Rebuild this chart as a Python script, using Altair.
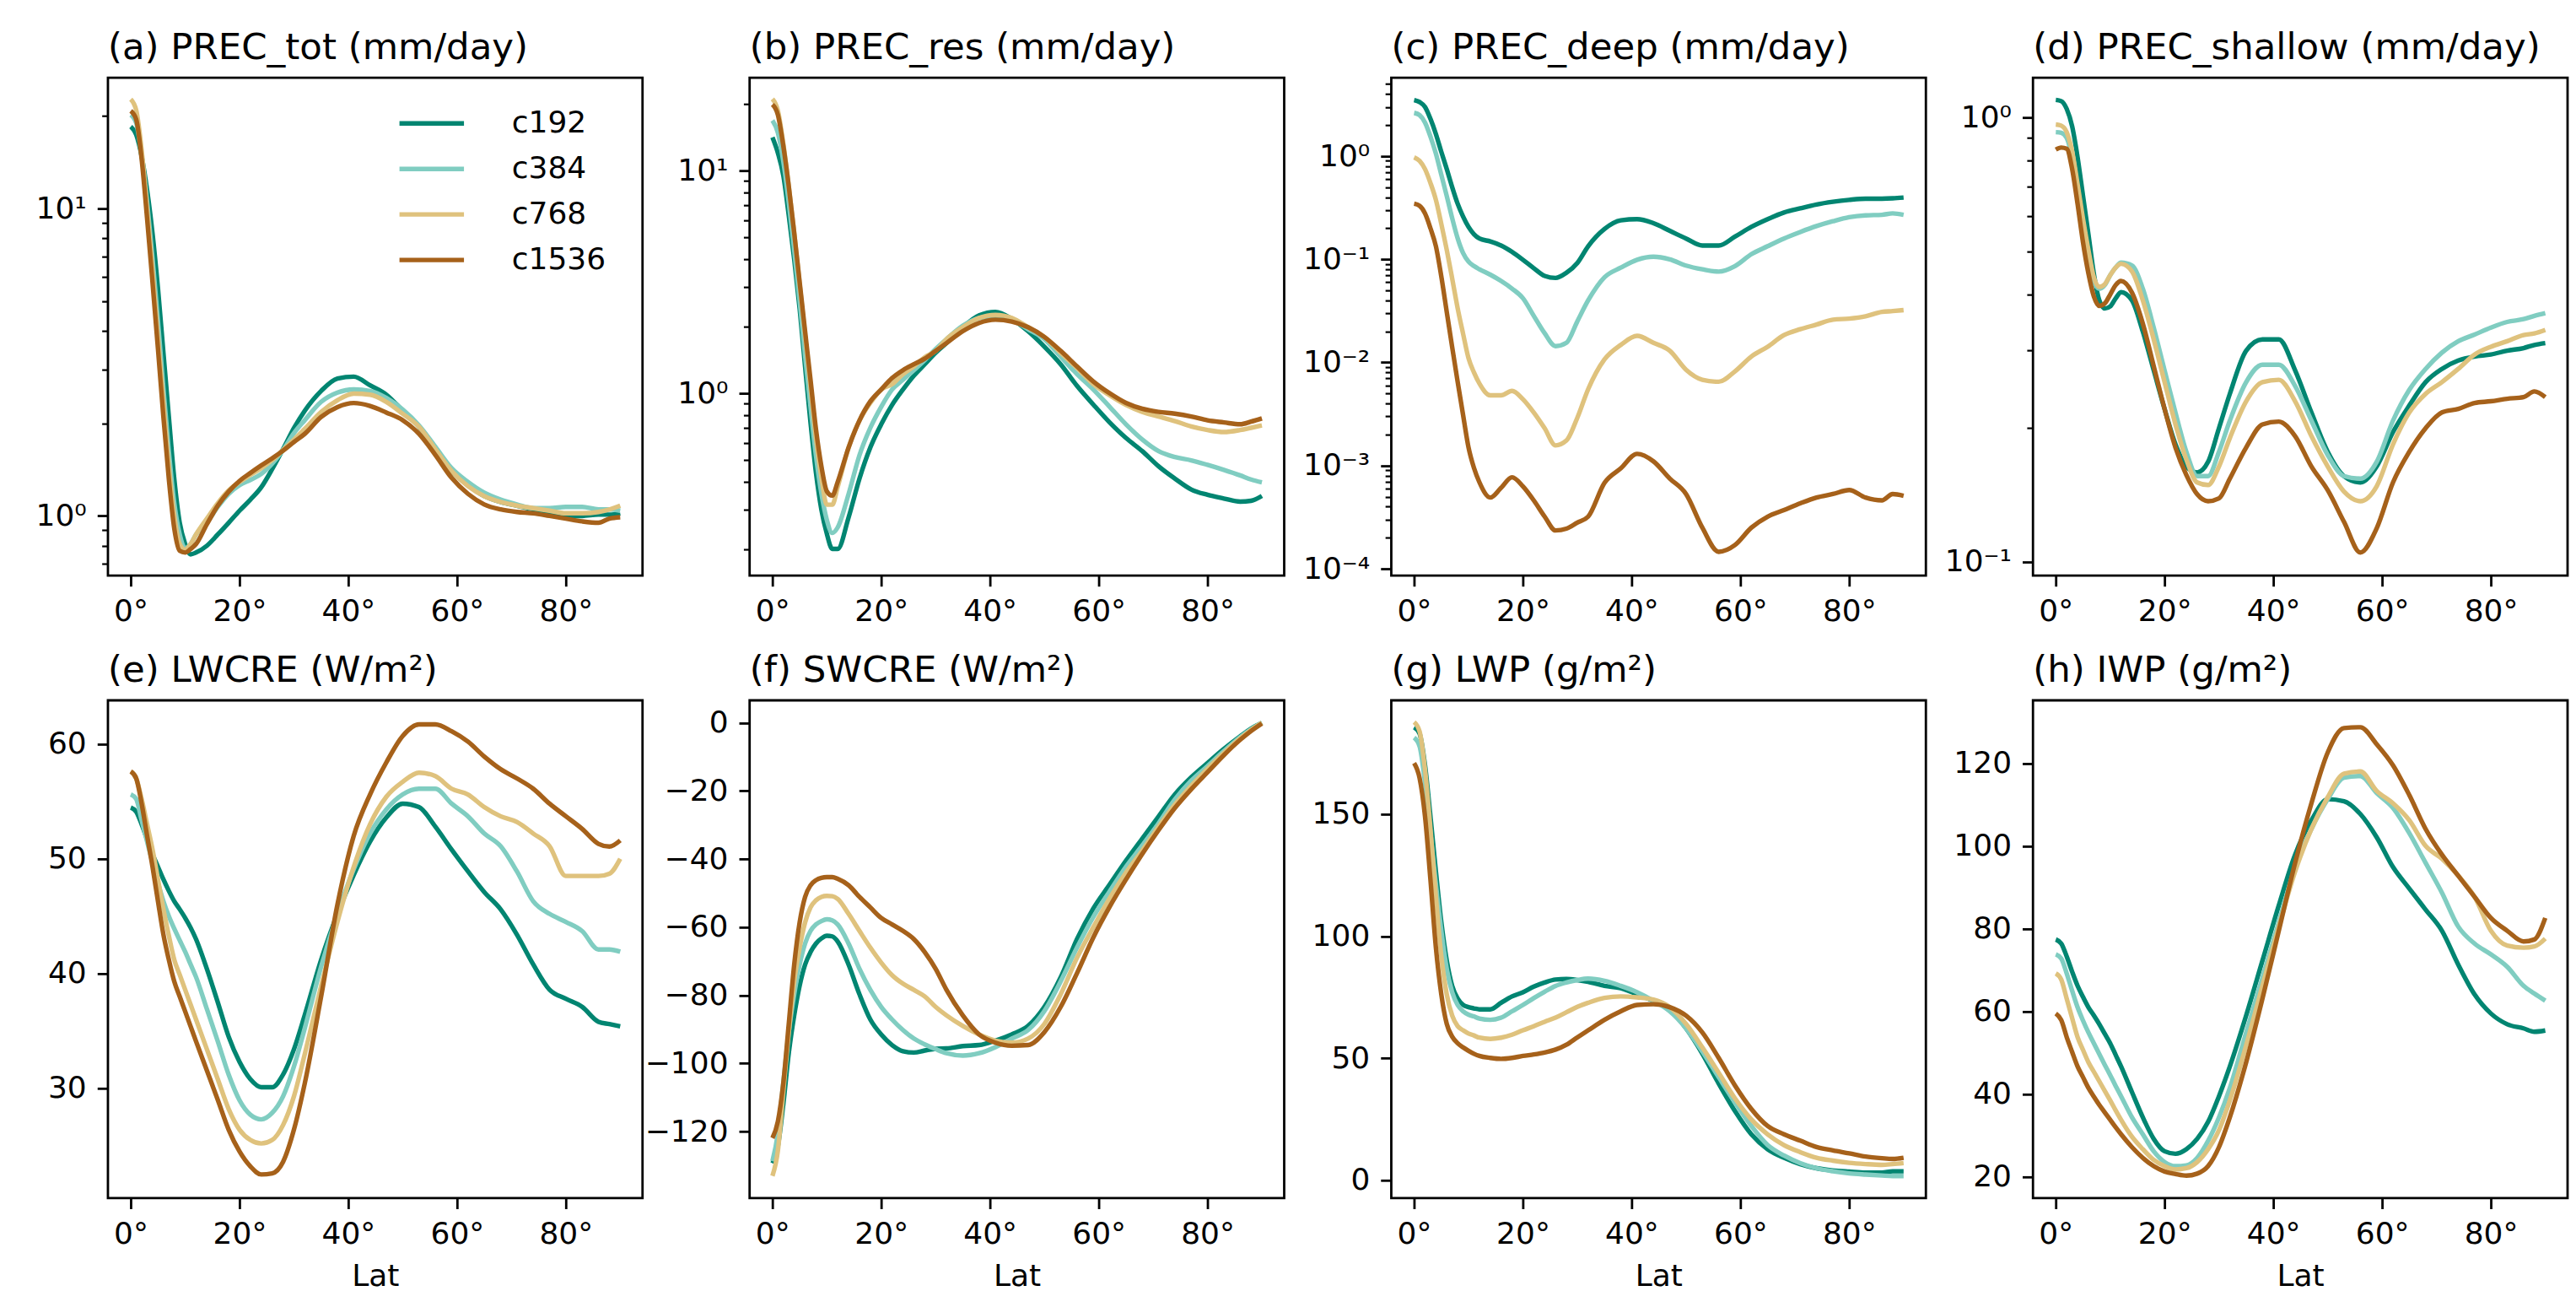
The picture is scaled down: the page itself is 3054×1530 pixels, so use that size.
import math
import altair as alt
import pandas as pd

LAT = [0, 1, 2, 3, 4, 5, 6, 7, 8, 9, 10, 11, 12,
       14, 16, 18, 20, 22, 24, 26, 28, 30, 32,
       35, 38, 41, 44, 47, 50, 53, 56, 59, 62, 65, 68, 71, 74, 77, 80, 83, 86,
       88, 90]

SERIES = ["c192", "c384", "c768", "c1536"]
COLORS = ["#018571", "#80cdc1", "#dfc27d", "#a6611a"]

# (a) PREC_tot
A_C192 = [18.5, 17.4, 14.8, 11.5, 8.3, 5.5, 3.4, 2.1, 1.32, 0.95, 0.81, 0.75, 0.76,
          0.80, 0.87, 0.95, 1.04, 1.13, 1.24, 1.42, 1.65, 1.93, 2.20,
          2.55, 2.80, 2.84, 2.66, 2.48, 2.20, 1.95, 1.65, 1.40, 1.26, 1.16, 1.11, 1.08, 1.05, 1.03, 1.00, 1.00, 1.01,
          1.01, 1.02]
A_C384 = [20.2, 19.0, 14.8, 10.5, 6.9, 4.3, 2.6, 1.62, 1.10, 0.87, 0.785, 0.81, 0.87,
          0.95, 1.07, 1.18, 1.26, 1.31, 1.37, 1.48, 1.64, 1.86, 2.05,
          2.35, 2.52, 2.58, 2.55, 2.42, 2.22, 1.97, 1.68, 1.43, 1.29, 1.19, 1.13, 1.09, 1.06, 1.06, 1.07, 1.07, 1.05,
          1.05, 1.04]
A_C768 = [22.7, 20.9, 15.5, 10.0, 6.3, 3.8, 2.35, 1.45, 1.0, 0.81, 0.776, 0.81, 0.87,
          0.98, 1.10, 1.21, 1.29, 1.36, 1.43, 1.52, 1.64, 1.77, 1.92,
          2.18, 2.38, 2.50, 2.48, 2.35, 2.15, 1.95, 1.65, 1.40, 1.25, 1.16, 1.11, 1.08, 1.06, 1.04, 1.02, 1.02, 1.03,
          1.05, 1.08]
A_C1536 = [20.8, 19.5, 14.5, 9.3, 5.75, 3.5, 2.1, 1.32, 0.91, 0.77, 0.76, 0.78, 0.81,
           0.94, 1.08, 1.20, 1.30, 1.38, 1.46, 1.54, 1.63, 1.74, 1.85,
           2.10, 2.26, 2.33, 2.28, 2.17, 2.05, 1.85, 1.58, 1.33, 1.18, 1.09, 1.05, 1.03, 1.02, 1.00, 0.98, 0.96, 0.95,
           0.98, 0.99]

# (b) PREC_res
B_C192 = [14.1, 12.0, 9.5, 6.3, 4.0, 2.4, 1.32, 0.74, 0.44, 0.30, 0.234, 0.20, 0.20,
          0.277, 0.414, 0.571, 0.726, 0.887, 1.04, 1.20, 1.35, 1.52, 1.68,
          1.98, 2.24, 2.32, 2.16, 1.90, 1.62, 1.35, 1.08, 0.89, 0.74, 0.63, 0.55, 0.47, 0.414, 0.37, 0.35, 0.337, 0.326,
          0.329, 0.346]
B_C384 = [16.8, 14.8, 11.0, 7.2, 4.4, 2.6, 1.48, 0.87, 0.525, 0.355, 0.27, 0.236, 0.25,
          0.353, 0.527, 0.70, 0.87, 1.04, 1.15, 1.27, 1.41, 1.58, 1.75,
          2.01, 2.18, 2.23, 2.14, 1.94, 1.75, 1.46, 1.22, 1.04, 0.87, 0.726, 0.62, 0.55, 0.517, 0.50, 0.477, 0.453, 0.428,
          0.41, 0.398]
B_C768 = [21.0, 18.6, 13.2, 8.5, 5.25, 3.1, 1.82, 1.07, 0.63, 0.42, 0.316, 0.316, 0.38,
          0.571, 0.755, 0.905, 1.04, 1.10, 1.22, 1.32, 1.45, 1.55, 1.75,
          1.98, 2.18, 2.25, 2.18, 1.98, 1.79, 1.52, 1.30, 1.10, 0.98, 0.887, 0.825, 0.787, 0.75, 0.71, 0.684, 0.67, 0.684,
          0.70, 0.717]
B_C1536 = [19.8, 17.8, 12.9, 8.5, 5.25, 3.16, 1.9, 1.15, 0.69, 0.47, 0.363, 0.347, 0.40,
           0.571, 0.755, 0.92, 1.04, 1.17, 1.27, 1.35, 1.43, 1.55, 1.68,
           1.90, 2.07, 2.14, 2.10, 1.98, 1.79, 1.55, 1.32, 1.13, 1.0, 0.905, 0.852, 0.825, 0.81, 0.787, 0.756, 0.74, 0.726,
           0.746, 0.771]

# (c) PREC_deep
C_C192 = [3.5, 3.35, 3.0, 2.3, 1.64, 1.1, 0.75, 0.5, 0.346, 0.26, 0.206, 0.175, 0.159,
          0.149, 0.136, 0.118, 0.099, 0.082, 0.069, 0.066, 0.074, 0.092, 0.134,
          0.197, 0.239, 0.245, 0.224, 0.189, 0.159, 0.136, 0.136, 0.166, 0.206, 0.245, 0.284, 0.312, 0.34, 0.361, 0.377, 0.387, 0.387,
          0.39, 0.397]
C_C384 = [2.63, 2.5, 2.12, 1.55, 1.06, 0.66, 0.41, 0.25, 0.16, 0.115, 0.095, 0.086, 0.08,
          0.071, 0.0616, 0.052, 0.042, 0.0283, 0.0192, 0.0144, 0.0155, 0.025, 0.040,
          0.067, 0.083, 0.099, 0.106, 0.10, 0.087, 0.08, 0.076, 0.086, 0.112, 0.134, 0.159, 0.184, 0.21, 0.234, 0.256, 0.267, 0.27,
          0.279, 0.27]
C_C768 = [0.975, 0.9, 0.75, 0.55, 0.377, 0.22, 0.123, 0.065, 0.0336, 0.019, 0.011, 0.008, 0.00625,
          0.0048, 0.0048, 0.0053, 0.0044, 0.00327, 0.0023, 0.00157, 0.00175, 0.0029, 0.0055,
          0.0107, 0.0148, 0.0181, 0.0155, 0.013, 0.0085, 0.0068, 0.0065, 0.0082, 0.0114, 0.0142, 0.0184, 0.021, 0.0233, 0.026, 0.0266, 0.028, 0.0309,
          0.0315, 0.0322]
C_C1536 = [0.346, 0.33, 0.279, 0.2, 0.134, 0.068, 0.0308, 0.014, 0.0065, 0.0031, 0.0015, 0.00095, 0.00069,
           0.00049, 0.00061, 0.00077, 0.00063, 0.00046, 0.00032, 0.000235, 0.000245, 0.00028, 0.00032,
           0.00068, 0.00094, 0.0013, 0.0011, 0.00075, 0.00053, 0.00025, 0.000146, 0.00017, 0.00025, 0.00032, 0.00037, 0.00043, 0.00049, 0.00053, 0.00058, 0.00049, 0.00046,
           0.00053, 0.00051]

# (d) PREC_shallow
D_C192 = [1.097, 1.09, 1.047, 0.957, 0.815, 0.667, 0.546, 0.445, 0.388, 0.372, 0.376, 0.392, 0.405,
          0.388, 0.33, 0.27, 0.221, 0.184, 0.164, 0.159, 0.168, 0.2, 0.239,
          0.299, 0.317, 0.317, 0.27, 0.217, 0.177, 0.156, 0.151, 0.164, 0.196, 0.225, 0.254, 0.272, 0.284, 0.29, 0.293, 0.299, 0.303,
          0.308, 0.311]
D_C384 = [0.928, 0.925, 0.901, 0.815, 0.694, 0.58, 0.494, 0.429, 0.412, 0.42, 0.442, 0.46, 0.472,
          0.465, 0.412, 0.337, 0.27, 0.217, 0.177, 0.156, 0.156, 0.177, 0.208,
          0.254, 0.278, 0.278, 0.249, 0.208, 0.174, 0.156, 0.154, 0.168, 0.208, 0.244, 0.272, 0.296, 0.314, 0.325, 0.337, 0.347, 0.352,
          0.358, 0.363]
D_C768 = [0.966, 0.96, 0.928, 0.84, 0.708, 0.592, 0.503, 0.437, 0.416, 0.422, 0.442, 0.46, 0.469,
          0.451, 0.388, 0.317, 0.254, 0.204, 0.17, 0.151, 0.149, 0.164, 0.19,
          0.23, 0.254, 0.257, 0.23, 0.192, 0.164, 0.144, 0.137, 0.148, 0.184, 0.217, 0.239, 0.254, 0.272, 0.293, 0.305, 0.314, 0.324,
          0.327, 0.333]
D_C1536 = [0.848, 0.857, 0.852, 0.767, 0.64, 0.524, 0.446, 0.396, 0.377, 0.382, 0.40, 0.42, 0.429,
           0.404, 0.344, 0.276, 0.221, 0.181, 0.157, 0.142, 0.137, 0.139, 0.154,
           0.181, 0.204, 0.207, 0.192, 0.164, 0.145, 0.123, 0.105, 0.119, 0.151, 0.177, 0.2, 0.217, 0.221, 0.228, 0.23, 0.233, 0.235,
           0.242, 0.235]

# (e) LWCRE
E_C192 = [54.46, 54.1, 53.0, 51.7, 50.4, 49.3, 48.2, 47.2, 46.3, 45.6, 44.85, 44.0, 43.0,
          40.4, 37.5, 34.5, 32.3, 30.8, 30.1, 30.1, 31.2, 33.4, 36.4,
          41.2, 45.2, 48.6, 51.5, 53.6, 54.8, 54.5, 52.8, 50.8, 48.9, 47.1, 45.6, 43.4, 40.8, 38.6, 37.8, 37.1, 35.8,
          35.6, 35.4]
E_C384 = [55.6, 55.2, 53.35, 51.5, 49.66, 47.9, 46.3, 45.0, 43.9, 42.9, 41.9, 40.8, 39.7,
          36.9, 34.1, 31.2, 28.96, 27.7, 27.3, 27.86, 29.3, 31.9, 35.25,
          40.6, 45.2, 49.1, 52.2, 54.3, 55.6, 56.1, 56.1, 54.8, 53.7, 52.2, 51.1, 48.9, 46.3, 45.2, 44.5, 43.7, 42.1,
          42.1, 41.9]
E_C768 = [57.6, 57.0, 55.2, 53.0, 50.8, 48.2, 45.6, 43.3, 41.2, 39.9, 38.6, 37.3, 36.0,
          33.4, 30.8, 28.2, 26.4, 25.5, 25.2, 25.5, 26.8, 29.3, 33.0,
          38.9, 44.5, 49.3, 53.0, 55.4, 56.7, 57.5, 57.2, 56.1, 55.6, 54.5, 53.7, 53.2, 52.2, 51.1, 48.5, 48.5, 48.5,
          48.7, 50.0]
E_C1536 = [57.6, 57.0, 54.8, 52.0, 49.3, 46.3, 43.4, 41.2, 39.3, 38.0, 36.7, 35.4, 34.1,
           31.55, 29.0, 26.4, 24.5, 23.2, 22.5, 22.6, 23.6, 26.4, 30.45,
           38.0, 46.0, 52.0, 55.6, 58.4, 60.7, 61.7, 61.7, 61.1, 60.2, 58.9, 57.8, 57.0, 56.1, 54.8, 53.7, 52.6, 51.3,
           51.06, 51.6]

# (f) SWCRE
F_C192 = [-129.3, -124.3, -111.9, -97.0, -85.9, -77.2, -71.0, -67.3, -64.8, -63.3, -62.5, -62.7, -64.2,
          -71.0, -79.7, -87.1, -91.5, -94.6, -96.4, -96.8, -96.2, -95.7, -95.6,
          -94.9, -94.6, -93.3, -91.5, -89.0, -83.4, -74.7, -63.5, -54.5, -47.5, -40.5, -34.0, -27.5, -21.0, -16.0, -11.8, -7.7, -4.0,
          -1.7, 0.0]
F_C384 = [-128.7, -120.6, -105.7, -90.8, -79.7, -71.0, -64.8, -61.1, -59.2, -58.2, -57.7, -58.0, -59.2,
          -64.8, -72.2, -78.4, -83.4, -87.1, -90.2, -92.7, -94.4, -95.8, -97.0,
          -97.7, -97.0, -95.2, -92.7, -90.2, -84.6, -75.9, -66.0, -57.0, -49.5, -42.3, -36.0, -29.5, -22.5, -17.0, -12.7, -8.3, -4.2,
          -1.9, 0.0]
F_C768 = [-133.0, -125.6, -108.2, -90.8, -75.9, -66.0, -58.6, -54.2, -52.1, -51.1, -50.8, -50.9, -51.7,
          -56.1, -61.1, -66.0, -70.4, -74.1, -76.6, -78.4, -80.3, -83.4, -85.9,
          -89.0, -91.5, -93.3, -93.9, -92.7, -88.4, -79.7, -69.0, -60.0, -51.5, -44.0, -37.5, -30.5, -24.0, -18.5, -13.5, -8.9, -4.6,
          -2.1, 0.0]
F_C1536 = [-121.9, -117.0, -105.7, -88.4, -71.0, -58.6, -51.1, -47.7, -46.2, -45.5, -45.3, -45.3, -45.8,
           -47.7, -51.1, -54.2, -57.3, -59.2, -61.1, -63.5, -67.3, -72.2, -78.4,
           -85.9, -91.5, -93.9, -94.8, -94.6, -90.8, -83.4, -73.5, -63.0, -54.0, -46.0, -38.5, -31.5, -25.0, -19.5, -14.5, -9.5, -5.0,
           -2.4, -0.2]

# (g) LWP
G_C192 = [185.6, 183, 170, 149, 126.5, 105.7, 90, 79.6, 74.4, 71.8, 70.9, 70.4, 70.0,
          70.0, 72.7, 75.3, 77.0, 79.3, 81.0, 82.2, 82.4, 82.0, 81.3,
          79.6, 78.7, 76.1, 73.5, 70.0, 62.2, 51.8, 39.6, 28.3, 18.8, 12.7, 9.2, 6.6, 4.9, 4.0, 3.5, 3.1, 3.1,
          3.65, 3.65]
G_C384 = [181.3, 177.8, 163, 142.2, 121.3, 102.2, 86.6, 77, 71.8, 69.2, 67.8, 67.1, 66.2,
          65.7, 66.6, 69.2, 71.8, 74.6, 77.2, 79.6, 81.0, 82.0, 82.6,
          81.7, 79.6, 77.0, 73.5, 69.2, 62.2, 52.7, 42.2, 31.8, 22.2, 14.4, 10.1, 7.0, 4.9, 3.65, 2.8, 2.3, 1.9,
          1.7, 1.7]
G_C768 = [187.7, 183.9, 168.3, 143.9, 116.1, 91.8, 76.1, 67.4, 63.1, 61.4, 60.1, 59.3, 58.4,
          57.9, 58.4, 59.6, 61.4, 63.1, 64.9, 66.6, 68.8, 71.0, 72.7,
          74.7, 75.3, 74.9, 74.0, 70.9, 64.0, 54.4, 44.0, 33.5, 24.9, 18.8, 14.4, 11.5, 9.2, 8.0, 7.1, 6.6, 6.3,
          6.6, 7.0]
G_C1536 = [170.9, 164.8, 149.1, 123.1, 95.3, 76.1, 64.0, 58.8, 56.1, 54.4, 53.0, 51.8, 50.9,
           50.1, 49.7, 50.1, 50.9, 51.5, 52.3, 53.5, 55.5, 58.5, 61.4,
           65.7, 69.2, 71.8, 72.1, 70.9, 67.4, 60.5, 50.1, 38.8, 29.2, 22.2, 18.8, 16.2, 13.6, 12.2, 11.0, 9.7, 9.0,
           8.7, 9.2]

# (h) IWP
H_C192 = [77.4, 76.4, 73.3, 69.6, 66.2, 63.5, 61.0, 59.0, 56.9, 54.6, 52.3, 49.5, 46.7,
          40.5, 34.4, 29.2, 26.2, 25.6, 26.7, 29.2, 33.3, 39.5, 46.7,
          59.0, 72.3, 85.6, 97.9, 106.2, 111.3, 110.8, 107.7, 102.1, 94.9, 89.7, 84.6, 79.5, 71.3, 64.1, 59.5, 56.9, 55.9,
          55.1, 55.4]
H_C384 = [73.8, 72.8, 69.2, 65.0, 61.0, 57.8, 54.9, 52.3, 49.7, 47.1, 44.6, 42.0, 39.5,
          34.4, 30.3, 26.2, 23.6, 22.6, 22.8, 24.6, 28.7, 34.4, 41.5,
          54.9, 68.2, 81.5, 94.9, 104.1, 111.3, 116.5, 116.9, 112.8, 109.2, 103.1, 95.9, 88.7, 80.5, 76.4, 73.8, 70.8, 66.2,
          64.3, 62.6]
H_C768 = [69.2, 67.7, 63.1, 58.4, 53.8, 50.7, 47.7, 45.4, 43.1, 40.8, 38.5, 36.1, 33.8,
          29.7, 26.7, 24.1, 22.6, 21.8, 22.1, 23.6, 26.7, 31.3, 38.5,
          51.8, 66.2, 80.5, 93.8, 104.1, 111.8, 117.5, 118.0, 113.3, 110.3, 106.2, 100.0, 96.9, 92.8, 87.7, 79.5, 75.9, 75.4,
          75.7, 77.6]
H_C1536 = [59.5, 57.9, 53.8, 50.2, 46.7, 44.1, 41.5, 39.4, 37.4, 35.6, 33.8, 32.0, 30.3,
           27.2, 24.6, 22.6, 21.3, 20.7, 20.3, 20.8, 22.6, 27.2, 34.4,
           47.7, 63.1, 79.5, 95.9, 110.3, 122.6, 128.5, 128.7, 124.6, 119.5, 112.3, 104.1, 97.9, 92.8, 87.7, 82.6, 79.5, 76.9,
           77.4, 82.6]

PANELS = [
    dict(title="(a) PREC_tot (mm/day)", series=[A_C192, A_C384, A_C768, A_C1536], log=True,
         domain=[0.640, 26.65], ticks=[1, 10], minor=[0.7, 0.8, 0.9, 2, 3, 4, 5, 6, 7, 8, 9, 20]),
    dict(title="(b) PREC_res (mm/day)", series=[B_C192, B_C384, B_C768, B_C1536], log=True,
         domain=[0.152, 26.1], ticks=[1, 10],
         minor=[0.2, 0.3, 0.4, 0.5, 0.6, 0.7, 0.8, 0.9, 2, 3, 4, 5, 6, 7, 8, 9, 20]),
    dict(title="(c) PREC_deep (mm/day)", series=[C_C192, C_C384, C_C768, C_C1536], log=True,
         domain=[8.6e-5, 5.75], ticks=[1e-4, 1e-3, 1e-2, 1e-1, 1],
         minor=[m * 10.0 ** e for e in range(-4, 1) for m in range(2, 10) if m * 10.0 ** e < 5.75]),
    dict(title="(d) PREC_shallow (mm/day)", series=[D_C192, D_C384, D_C768, D_C1536], log=True,
         domain=[0.0932, 1.23], ticks=[0.1, 1], minor=[0.2, 0.3, 0.4, 0.5, 0.6, 0.7, 0.8, 0.9]),
    dict(title="(e) LWCRE (W/m²)", series=[E_C192, E_C384, E_C768, E_C1536], log=False,
         domain=[20.45, 63.8], ticks=[30, 40, 50, 60]),
    dict(title="(f) SWCRE (W/m²)", series=[F_C192, F_C384, F_C768, F_C1536], log=False,
         domain=[-139.5, 6.6], ticks=[-120, -100, -80, -60, -40, -20, 0]),
    dict(title="(g) LWP (g/m²)", series=[G_C192, G_C384, G_C768, G_C1536], log=False,
         domain=[-7.3, 196.6], ticks=[0, 50, 100, 150]),
    dict(title="(h) IWP (g/m²)", series=[H_C192, H_C384, H_C768, H_C1536], log=False,
         domain=[14.9, 135.2], ticks=[20, 40, 60, 80, 100, 120]),
]

SUP = {"0": "⁰", "1": "¹", "2": "²", "3": "³", "4": "⁴", "-": "⁻"}
FONT = "DejaVu Sans"
PW, PH = 634, 590
LW = 5.4


def log_label_expr(ticks):
    labels = []
    for v in ticks:
        e = int(round(math.log10(v)))
        labels.append((v, "10" + "".join(SUP[c] for c in str(e))))
    expr = "'" + labels[-1][1] + "'"
    for v, s in reversed(labels[:-1]):
        expr = "datum.value < %r ? '%s' : " % (v * 3, s) + expr
    return expr


def make_panel(i, p):
    rows = []
    for name, vals in zip(SERIES, p["series"]):
        for la, v in zip(LAT, vals):
            rows.append({"lat": la, "value": v, "series": name})
    df = pd.DataFrame(rows)
    base = alt.Chart(df)

    bottom_row = i >= 4
    xenc = alt.X("lat:Q",
                 scale=alt.Scale(domain=[-4.2, 94.1], nice=False, zero=False),
                 axis=alt.Axis(values=[0, 20, 40, 60, 80], labelExpr="datum.value + '°'",
                               title="Lat" if bottom_row else None, labelFlush=False,
                               labelOverlap=False))
    if p["log"]:
        yscale = alt.Scale(type="log", domain=p["domain"], nice=False)
        yaxis = alt.Axis(values=p["ticks"], labelExpr=log_label_expr(p["ticks"]), title=None,
                         minExtent=86, maxExtent=86, labelOverlap=False)
    else:
        yscale = alt.Scale(domain=p["domain"], nice=False, zero=False)
        yaxis = alt.Axis(values=p["ticks"], format="d", title=None,
                         minExtent=86, maxExtent=86, labelOverlap=False)

    if i == 0:
        legend = alt.Legend(title=None, orient="none", legendX=366, legendY=36,
                            symbolType="M-2.55,0L2.55,0", symbolSize=900, symbolStrokeWidth=LW,
                            labelFontSize=36, labelFont=FONT, labelColor="black",
                            labelOffset=77, rowPadding=18, padding=0)
    else:
        legend = None
    cenc = alt.Color("series:N", scale=alt.Scale(domain=SERIES, range=COLORS), legend=legend)

    layers = []
    for name in SERIES:
        layers.append(
            base.transform_filter(alt.datum.series == name)
            .mark_line(strokeWidth=LW, interpolate="monotone", strokeJoin="round", clip=True)
            .encode(x=xenc, y=alt.Y("value:Q", scale=yscale, axis=yaxis), color=cenc)
        )
    lines = alt.layer(*layers)

    title = alt.TitleParams(p["title"], anchor="start", frame="group", fontSize=43.5, font=FONT,
                            fontWeight="normal", color="black", offset=-21.75, baseline="alphabetic")

    if p["log"]:
        minor = base.mark_point(opacity=0, size=1).encode(
            x=xenc,
            y=alt.Y("value:Q", scale=yscale,
                    axis=alt.Axis(values=p["minor"], labels=False, tickSize=7.3, tickWidth=2.2,
                                  title=None, orient="left", minExtent=0, maxExtent=0)),
        )
        chart = alt.layer(lines, minor).resolve_axis(y="independent")
    else:
        chart = lines
    return chart.properties(width=PW, height=PH, title=title)


charts = [make_panel(i, p) for i, p in enumerate(PANELS)]

chart = (
    alt.concat(*charts, columns=4, spacing={"row": 148, "column": 127}, bounds="flush")
    .resolve_scale(color="independent")
    .properties(padding={"left": 32, "top": 25, "right": 0, "bottom": 0})
    .configure(font=FONT)
    .configure_view(stroke="black", strokeWidth=2.8)
    .configure_axis(labelFontSize=36, labelFont=FONT, labelColor="black", tickColor="black",
                    tickWidth=2.8, tickSize=12.7, labelPadding=13, domain=False, grid=False,
                    titleFontSize=36, titleFont=FONT, titleFontWeight="normal", titleColor="black",
                    titlePadding=15)
)

chart.save("out.html", embed_options={"renderer": "svg", "actions": False})
